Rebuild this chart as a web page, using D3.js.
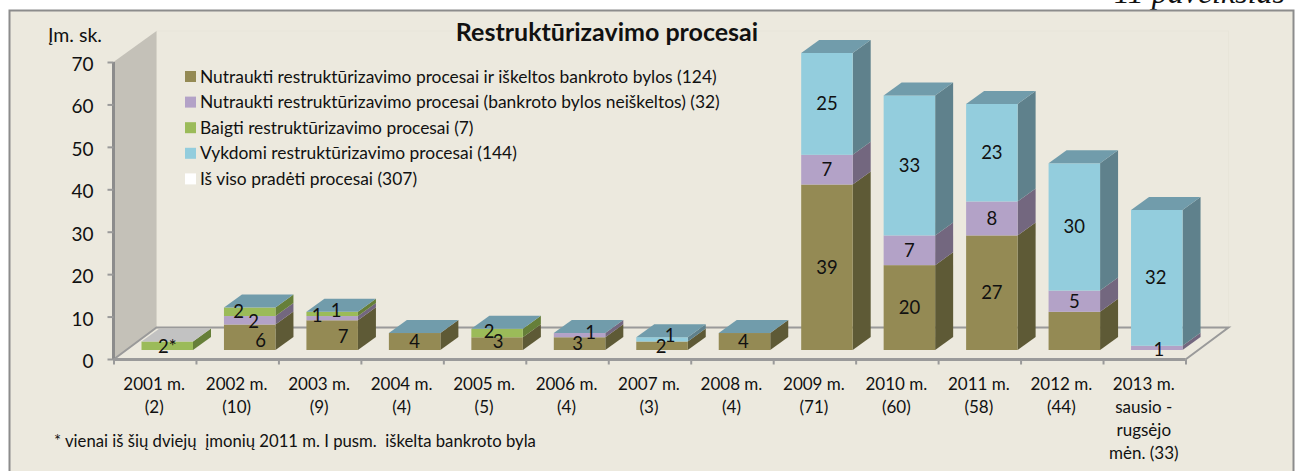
<!DOCTYPE html>
<html><head><meta charset="utf-8">
<script src="https://cdn.jsdelivr.net/npm/d3@7"></script>
<style>html,body{margin:0;padding:0;background:#fff}svg{display:block}text{font-family:Lato,Carlito,sans-serif;fill:#111}</style>
</head><body><svg id="c" width="1301" height="471"></svg>
<script>
const categories=["2001 m.|(2)","2002 m.|(10)","2003 m.|(9)","2004 m.|(4)","2005 m.|(5)","2006 m.|(4)","2007 m.|(3)","2008 m.|(4)","2009 m.|(71)","2010 m.|(60)","2011 m.|(58)","2012 m.|(44)","2013 m.|sausio -|rugsėjo|mėn. (33)"];
const seriesNames=["Nutraukti restruktūrizavimo procesai ir iškeltos bankroto bylos (124)","Nutraukti restruktūrizavimo procesai (bankroto bylos neiškeltos) (32)","Baigti restruktūrizavimo procesai (7)","Vykdomi restruktūrizavimo procesai (144)","Iš viso pradėti procesai (307)"];
const nutraukti=[0,6,7,4,3,3,2,4,39,20,27,9,0];
const neiskeltos=[0,2,1,0,0,1,0,0,7,7,8,5,1];
const baigti=[2,2,1,0,2,0,0,0,0,0,0,0,0];
const vykdomi=[null,0,0,0,0,0,1,0,25,33,23,30,32];
const yTicks=[0,10,20,30,40,50,60,70];
const title="Restruktūrizavimo procesai";
const axisTitle="Įm. sk.";
const footnote="* vienai iš šių dviejų  įmonių 2011 m. I pusm.  iškelta bankroto byla";
const pageLabel="11 paveikslas";

const front=["#948A54","#B3A2C7","#9BBB59","#93CDDD"];
const side=["#5E5A36","#73677F","#667F39","#5F818C"];
const topc=["#948A54","#B3A2C7","#9BBB59","#719CAB"];
const legendColors=["#948A54","#B3A2C7","#9BBB59","#93CDDD","#FFFFFF"];

// manual label shifts, keyed category index / series index
const nudge={"0/2":[0,1],"1/0":[11,3],"1/1":[4,1],"1/2":[-11,0],"2/0":[11,1],"2/1":[-15,-3],"2/2":[4,-3],
"4/0":[1,-2],"4/2":[-8,-2],"5/0":[-2,0],"5/1":[11,-3],"6/0":[-1,1],"6/3":[8,-4],"7/0":[-1,0],"12/1":[2,2],"12/3":[-1,0]};
const hidden=new Set(["11/0"]);

const svg=d3.select("#c");
svg.append("text").attr("x",1285).attr("y",3).attr("text-anchor","end")
  .style("font-family","'Liberation Serif',serif").style("font-style","italic").style("font-size","32px").text(pageLabel);
svg.append("rect").attr("x",9.5).attr("y",10.5).attr("width",1284).attr("height",470)
  .attr("fill","#ECE9DE").attr("stroke","#8C8C8C").attr("stroke-width",2);

const y=d3.scaleLinear().domain([0,70]).range([350,53]).clamp(true);
const yAxisScale=d3.scaleLinear().domain([0,70]).range([359,62]);
const x=d3.scaleBand().domain(d3.range(categories.length)).range([113.5,1185.5]);
const depth={dx:18,dy:-13}, wall={dx:43,dy:-32};
const barOff=28,barW=51.5;
const x0=113.5,x1=1185.5,yb=359.5,yt=62;

svg.append("rect").attr("x",x0+wall.dx).attr("y",yt+wall.dy+1).attr("width",x1-x0).attr("height",yb-yt)
  .attr("fill","#ECE9DE").attr("stroke","#E8E5D9");
svg.append("path").attr("d",`M${x0},${yt}L${x0+wall.dx},${yt+wall.dy+1}V${yb+wall.dy}L${x0},${yb}Z`).attr("fill","#C4C1B8");
svg.append("path").attr("d",`M${x0},${yb}L${x0+wall.dx},${yb+wall.dy}H${x1+wall.dx}L${x1},${yb}`)
  .attr("fill","none").attr("stroke","#9A9A9A").attr("stroke-width",2);

const rows=categories.map((c,i)=>({i,a:nutraukti[i],b:neiskeltos[i],c:baigti[i],d:vykdomi[i]||0}));
const stack=d3.stack().keys(["a","b","c","d"])(rows);
const g=svg.append("g");
rows.forEach((r,i)=>{
  const bx=x(i)+barOff;
  stack.forEach((s,k)=>{
    const v=[r.a,r.b,r.c,r.d][k];
    if(!v) return;
    const y0=y(s[i][0]),y1=y(s[i][1]);
    g.append("path").attr("d",`M${bx+barW},${y1}l${depth.dx},${depth.dy}V${y0+depth.dy}L${bx+barW},${y0}Z`).attr("fill",side[k]);
    g.append("rect").attr("x",bx).attr("y",y1).attr("width",barW).attr("height",y0-y1).attr("fill",front[k]);
  });
  const total=r.a+r.b+r.c+r.d, ty=y(total);
  const topColor=vykdomi[i]===null?"#C2C2C2":topc[3];
  g.append("path").attr("d",`M${bx},${ty}l${depth.dx},${depth.dy}h${barW}l${-depth.dx},${-depth.dy}Z`).attr("fill",topColor);
});

const yAxis=d3.axisLeft(yAxisScale).tickValues(yTicks).tickSize(6).tickPadding(14).tickFormat(d3.format("d"));
const ya=svg.append("g").attr("transform",`translate(${x0},0)`).call(yAxis);
ya.selectAll("text").style("font-size","19px").attr("dy","0.45em");
ya.selectAll("line").attr("stroke","#9A9A9A").attr("stroke-width",2);
ya.select(".domain").attr("d",`M0,${yt}V${yb}`).attr("stroke","#8C8C8C").attr("stroke-width",3).attr("fill","none");
const xEdges=d3.scaleLinear().domain([0,categories.length]).range([x0,x1]);
const xAxis=d3.axisBottom(xEdges).tickValues(d3.range(categories.length+1)).tickSize(5).tickFormat("");
const xa=svg.append("g").attr("transform",`translate(0,${yb})`).call(xAxis);
xa.selectAll("line").attr("stroke","#9A9A9A").attr("stroke-width",2);
xa.select(".domain").attr("stroke","#9A9A9A").attr("stroke-width",3).attr("d",`M${x0},0H${x1}`);

const dl=svg.append("g");
rows.forEach((r,i)=>{
  const bx=x(i)+barOff;
  stack.forEach((s,k)=>{
    const v=[r.a,r.b,r.c,r.d][k];
    if(!v||hidden.has(i+"/"+k)) return;
    const n=nudge[i+"/"+k]||[0,0];
    const cy=(y(s[i][0])+y(s[i][1]))/2;
    dl.append("text").attr("x",bx+barW/2+n[0]).attr("y",cy+n[1]).attr("dy","0.35em").attr("text-anchor","middle")
      .style("font-size","18.5px").text(i===0?v+"*":v);
  });
});

categories.forEach((c,i)=>{
  c.split("|").forEach((t,j)=>{
    svg.append("text").attr("x",x(i)+x.bandwidth()/2-0.5).attr("y",384+j*23).attr("dy","0.35em").attr("text-anchor","middle")
      .style("font-size","17px").text(t);
  });
});

const leg=svg.append("g");
seriesNames.forEach((n,i)=>{
  const cy=76.5+i*25.6;
  leg.append("rect").attr("x",185).attr("y",cy-5.5).attr("width",11).attr("height",11).attr("fill",legendColors[i]);
  leg.append("text").attr("x",200).attr("y",cy).attr("dy","0.35em").style("font-size","17.4px").text(n);
});

svg.append("text").attr("x",607).attr("y",32).attr("dy","0.35em").attr("text-anchor","middle")
  .style("font-size","25px").style("font-weight","700").text(title);
svg.append("text").attr("x",48).attr("y",35).attr("dy","0.35em").style("font-size","19.5px").text(axisTitle);
svg.append("text").attr("x",54).attr("y",441).attr("dy","0.35em").style("font-size","16.7px").style("white-space","pre").text(footnote);
</script></body></html>
